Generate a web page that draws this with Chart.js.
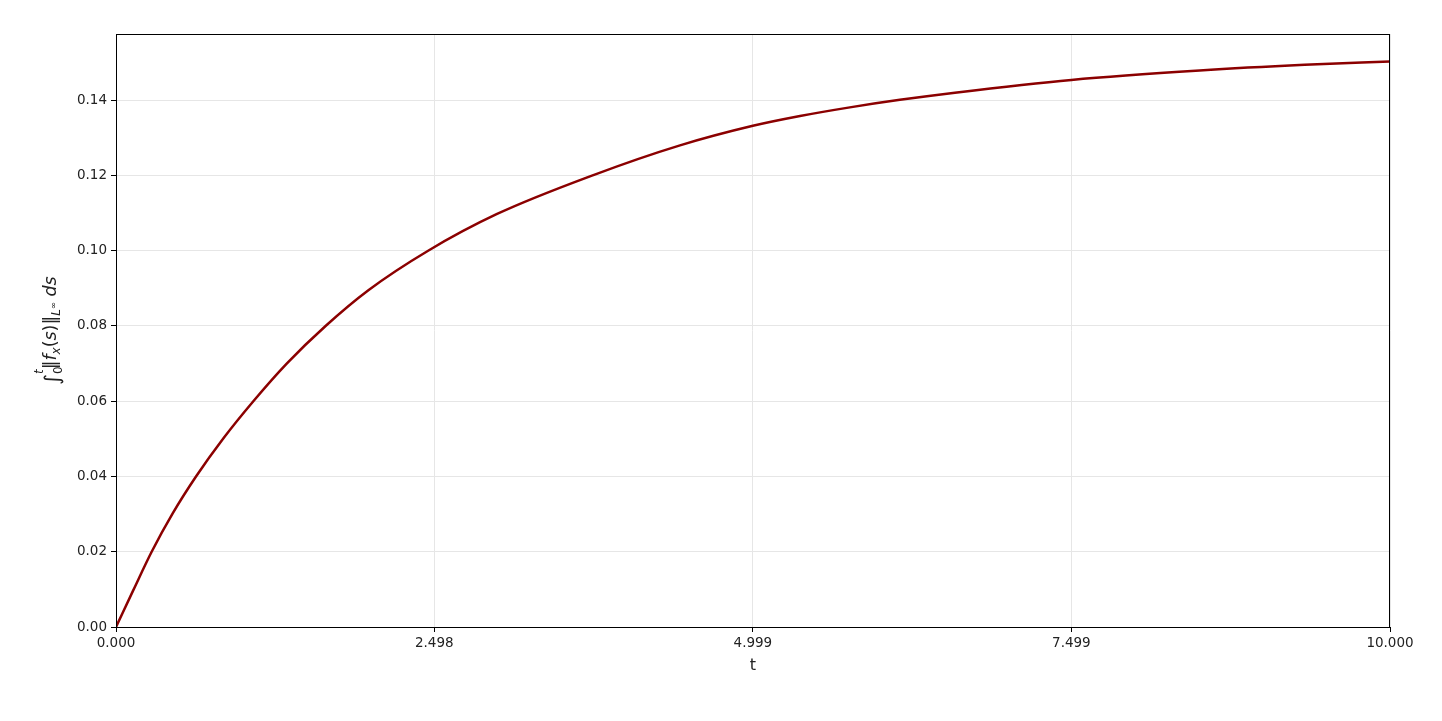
<!DOCTYPE html>
<html>
<head>
<meta charset="utf-8">
<title>Integral of sup-norm</title>
<script src="https://cdn.jsdelivr.net/npm/chart.js@4.4.1/dist/chart.umd.min.js"></script>
<style>
  html, body { margin: 0; padding: 0; background: #fff; }
  #chart { display: block; }
</style>
</head>
<body>
<canvas id="chart" width="1442" height="721"></canvas>
<script>
// values
const tValues = [0, 0.136, 0.28, 0.445, 0.628, 0.842, 1.078, 1.34, 1.645, 1.981, 2.45,
  2.987, 3.747, 4.427, 4.999, 5.369, 5.76, 6.153, 6.585, 7.499, 8.506, 9.33, 10.0]
const integralValues = [0, 0.0098, 0.0200, 0.0302, 0.0400, 0.0501, 0.0600, 0.0700, 0.0800,
  0.0895, 0.1000, 0.1097, 0.1201, 0.1280, 0.1332, 0.1358, 0.1381, 0.1401, 0.1420,
  0.1454, 0.1479, 0.1494, 0.1503]
const xTickValues = [0, 2.498, 4.999, 7.499, 10.0]
const yTickValues = [0, 0.02, 0.04, 0.06, 0.08, 0.10, 0.12, 0.14]

const FONT = '"DejaVu Sans", "Liberation Sans", sans-serif'
const TEXT = '#222'
const GRID = '#e6e6e6'

// black frame around the plot area (matplotlib style box)
const framePlugin = {
  id: 'frame',
  afterDraw(chart) {
    const { ctx, chartArea: a } = chart
    ctx.save()
    ctx.strokeStyle = '#000'
    ctx.lineWidth = 1
    ctx.strokeRect(a.left + 0.5, a.top + 0.5, a.right - a.left - 1, a.bottom - a.top)
    ctx.restore()
  },
}

// rotated y-axis label: ∫_0^t ‖f_x(s)‖_{L^∞} ds
const yLabelPlugin = {
  id: 'yLabel',
  afterDraw(chart) {
    const { ctx, chartArea: a } = chart
    const big = 17.5, small = 12, tiny = 8.5
    // [text, size, italic, dy (baseline shift, negative = up), advance]
    const parts = [
      ['∫', big + 3, false, 3, true],
      ['0', small, false, 6, false],
      ['t', small, true, -13, true],
      ['‖', big, false, 0, true],
      ['f', big, true, 0, true],
      ['x', small, true, 4, true],
      ['(', big, false, 0, true],
      ['s', big, true, 0, true],
      [')', big, false, 0, true],
      ['‖', big, false, 0, true],
      ['L', small, true, 4, true],
      ['∞', tiny, false, 0, true],
      [' ', big, false, 0, true],
      ['d', big, true, 0, true],
      ['s', big, true, 0, true],
    ]
    const fontOf = p => (p[2] ? 'italic ' : '') + p[1] + 'px ' + FONT
    let total = 0
    for (const p of parts) {
      ctx.font = fontOf(p)
      if (p[4]) total += ctx.measureText(p[0]).width
    }
    ctx.save()
    ctx.translate(56, (a.top + a.bottom) / 2)
    ctx.rotate(-Math.PI / 2)
    ctx.fillStyle = TEXT
    ctx.textBaseline = 'alphabetic'
    ctx.textAlign = 'left'
    let x = -total / 2
    for (const p of parts) {
      ctx.font = fontOf(p)
      ctx.fillText(p[0], x, p[3])
      if (p[4]) x += ctx.measureText(p[0]).width
    }
    ctx.restore()
  },
}

const points = tValues.map((t, i) => ({ x: t, y: integralValues[i] }))

new Chart(document.getElementById('chart'), {
  type: 'line',
  data: {
    datasets: [{
      data: points,
      borderColor: '#8b0000',
      borderWidth: 2.5,
      pointRadius: 0,
      fill: false,
      cubicInterpolationMode: 'monotone',
    }],
  },
  options: {
    responsive: false,
    animation: false,
    layout: { padding: { top: 34, right: 52, left: 0, bottom: 46 } },
    plugins: { legend: { display: false }, tooltip: { enabled: false } },
    scales: {
      x: {
        type: 'linear',
        min: 0,
        max: 10,
        afterBuildTicks: s => { s.ticks = xTickValues.map(v => ({ value: v })) },
        afterFit: s => { s.height = 48 },
        grid: { color: GRID, tickColor: '#000', tickLength: 5, lineWidth: 1 },
        border: { display: false },
        ticks: {
          autoSkip: false,
          maxRotation: 0,
          padding: 3,
          color: TEXT,
          font: { family: FONT, size: 13.5 },
          callback: v => Number(v).toFixed(3),
        },
        title: {
          display: true,
          text: 't',
          color: TEXT,
          font: { family: FONT, size: 16 },
          padding: { top: 2, bottom: 0 },
        },
      },
      y: {
        type: 'linear',
        min: 0,
        max: 0.1576,
        afterBuildTicks: s => { s.ticks = yTickValues.map(v => ({ value: v })) },
        afterFit: s => { s.width = 116 },
        grid: { color: GRID, tickColor: '#000', tickLength: 5, lineWidth: 1 },
        border: { display: false },
        ticks: {
          padding: 4,
          color: TEXT,
          font: { family: FONT, size: 13.5 },
          callback: v => Number(v).toFixed(2),
        },
      },
    },
  },
  plugins: [framePlugin, yLabelPlugin],
})
</script>
</body>
</html>
